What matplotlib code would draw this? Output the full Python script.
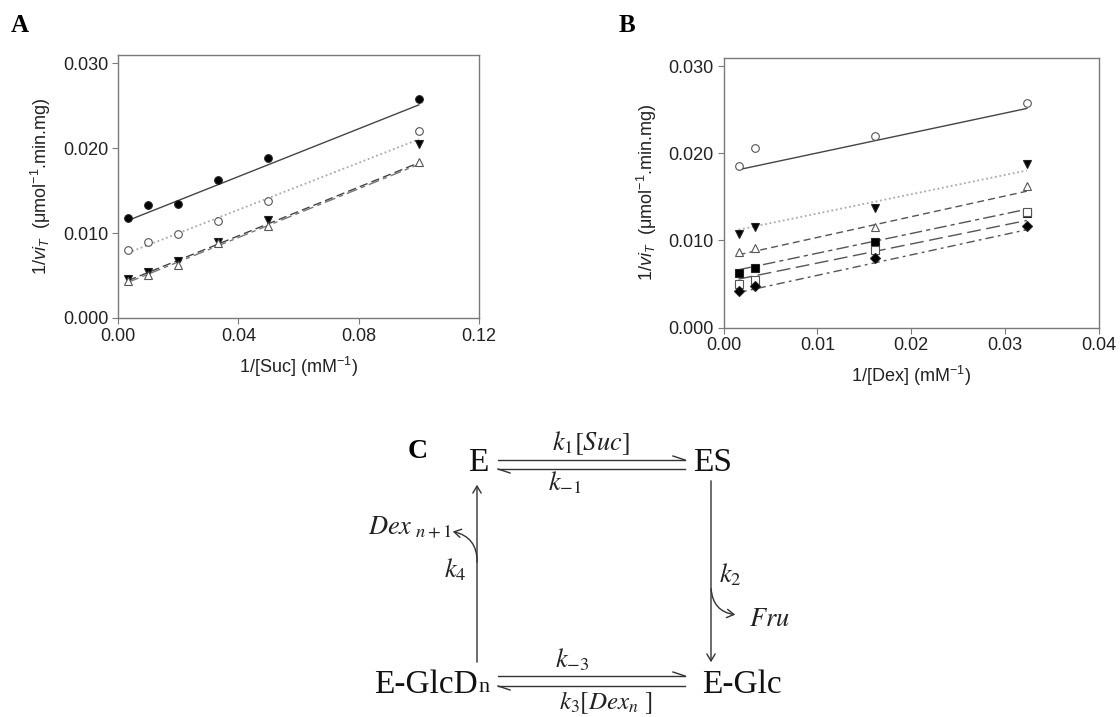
import numpy as np
import matplotlib
matplotlib.use("Agg")
import matplotlib.pyplot as plt
from matplotlib.patches import FancyArrowPatch

plt.rcParams["font.family"] = ["Liberation Sans", "DejaVu Sans"]
plt.rcParams["mathtext.fontset"] = "custom"
plt.rcParams["mathtext.rm"] = "Liberation Sans"
plt.rcParams["mathtext.it"] = "Liberation Sans:italic"

# panel A: 1/[Suc] series (points, then fitted line value at first / last x)
suc_x = [1/300, 1/100, 1/50, 1/30, 1/20, 1/10]
suc_fc = [0.01177, 0.01327, 0.01346, 0.01622, 0.01882, 0.02583]
suc_oc = [0.00799, 0.00894, 0.00992, 0.01142, 0.01382, 0.02201]
suc_ftd = [0.00461, 0.00539, 0.00677, 0.00894, 0.01154, 0.02055]
suc_otu = [0.00441, 0.00508, 0.00630, 0.00882, 0.01083, 0.01839]
suc_fit_fc = [0.01150, 0.02512]
suc_fit_oc = [0.00768, 0.02106]
suc_fit_ftd = [0.00441, 0.01830]
suc_fit_otu = [0.00421, 0.01811]

# panel B: 1/[Dex] series
dex_x = [0.0016, 0.0033, 0.0161, 0.0323]
dex_oc = [0.01851, 0.02057, 0.02203, 0.02580]
dex_ftd = [0.01069, 0.01153, 0.01368, 0.01875]
dex_otu = [0.00866, 0.00908, 0.01149, 0.01623]
dex_fsq = [0.00625, 0.00682, 0.00977, 0.01315]
dex_osq = [0.00502, 0.00548, 0.00885, 0.01325]
dex_fdi = [0.00421, 0.00471, 0.00793, 0.01170]
dex_fit_oc = [0.01812, 0.02515]
dex_fit_ftd = [0.01123, 0.01803]
dex_fit_otu = [0.00835, 0.01565]
dex_fit_fsq = [0.00663, 0.01358]
dex_fit_osq = [0.00556, 0.01229]
dex_fit_fdi = [0.00402, 0.01123]

GRID = "#7a7a7a"
TXT = "#222222"

def style_axes(ax, xlim, xticks, xlabel):
    ax.set_xlim(*xlim)
    ax.set_ylim(0, 0.031)
    ax.set_xticks(xticks)
    ax.set_xticklabels(["%.2f" % t for t in xticks])
    ax.set_yticks([0, 0.01, 0.02, 0.03])
    ax.set_yticklabels(["0.000", "0.010", "0.020", "0.030"])
    for s in ax.spines.values():
        s.set_color(GRID)
        s.set_linewidth(1.0)
    ax.tick_params(direction="out", length=4, color=GRID, labelsize=13,
                   labelcolor=TXT, top=False, right=False, pad=3)
    ax.set_xlabel(xlabel, fontsize=13, color=TXT, labelpad=7)
    ax.set_ylabel(r"$1/vi_T$  (μmol$^{-1}$.min.mg)", fontsize=13, color=TXT, labelpad=7)

def series(ax, x, y, fit, marker, mfc, ls, lc, lw=1.0):
    ax.plot([x[0], x[-1]], fit, linestyle=ls, color=lc, lw=lw, zorder=2)
    ax.plot(x, y, linestyle="none", marker=marker, ms=5.5, mfc=mfc,
            mec="#222222" if mfc != "white" else "#555555", mew=0.8, zorder=3)

fig = plt.figure(figsize=(11.2, 7.17), dpi=100)

axA = fig.add_axes([0.1054, 0.5565, 0.3223, 0.3668])
series(axA, suc_x, suc_fc, suc_fit_fc, "o", "black", "-", "#444444")
series(axA, suc_x, suc_oc, suc_fit_oc, "o", "white", (0, (1, 1.5)), "#aaaaaa", 1.3)
series(axA, suc_x, suc_ftd, suc_fit_ftd, "v", "black", (0, (6, 3)), "#444444")
series(axA, suc_x, suc_otu, suc_fit_otu, "^", "white", (0, (8, 3, 3, 3)), "#777777")
style_axes(axA, (0, 0.12), [0, 0.04, 0.08, 0.12], r"1/[Suc] (mM$^{-1}$)")

axB = fig.add_axes([0.646, 0.5432, 0.3353, 0.3766])
series(axB, dex_x, dex_oc, dex_fit_oc, "o", "white", "-", "#444444")
series(axB, dex_x, dex_ftd, dex_fit_ftd, "v", "black", (0, (1, 1.5)), "#aaaaaa", 1.3)
series(axB, dex_x, dex_otu, dex_fit_otu, "^", "white", (0, (5, 3)), "#555555")
series(axB, dex_x, dex_fsq, dex_fit_fsq, "s", "black", (0, (9, 3, 3, 3)), "#555555")
series(axB, dex_x, dex_osq, dex_fit_osq, "s", "white", (0, (10, 4)), "#555555")
series(axB, dex_x, dex_fdi, dex_fit_fdi, "D", "black", (0, (6, 3, 2, 3)), "#555555")
style_axes(axB, (0, 0.04), [0, 0.01, 0.02, 0.03, 0.04], r"1/[Dex] (mM$^{-1}$)")

# panel letters
serif = ["Liberation Serif", "DejaVu Serif"]
fig.text(20 / 1120, 1 - 25 / 717, "A", fontsize=18, fontweight="bold", family=serif, ha="center", va="center")
fig.text(627 / 1120, 1 - 25 / 717, "B", fontsize=18, fontweight="bold", family=serif, ha="center", va="center")

# scheme C, drawn in pixel coordinates
axC = fig.add_axes([0, 0, 1, 1])
axC.set_xlim(0, 1120)
axC.set_ylim(717, 0)
axC.axis("off")
axC.patch.set_visible(False)

lc = "#333333"
axC.text(418, 452, "C", fontsize=20, fontweight="bold", family=serif, ha="center", va="center")
big = dict(fontsize=24, family=serif, ha="center", va="center", color="#111111")
axC.text(478, 463, "E", **big)
axC.text(713, 463, "ES", **big)
axC.text(742, 685, "E-Glc", **big)
axC.text(478, 685, "E-GlcD", fontsize=24, family=serif, ha="right", va="center", color="#111111")
axC.text(478, 688, "n", fontsize=16, family=serif, ha="left", va="center", color="#111111")

lab = dict(fontsize=19, math_fontfamily="stix", ha="center", va="center", color="#222222")
axC.text(591, 443, r"$k_1[Suc]$", **lab)
axC.text(565, 483, r"$k_{-1}$", **lab)
axC.text(572, 660, r"$k_{-3}$", **lab)
axC.text(606, 703, r"$k_3[Dex_n\ ]$", fontsize=18, math_fontfamily="stix",
         ha="center", va="center", color="#222222")
axC.text(410, 528, r"$Dex_{\ n+1}$", **lab)
axC.text(455, 570, r"$k_4$", **lab)
axC.text(730, 575, r"$k_2$", **lab)
axC.text(769, 619, r"$Fru$", **lab)

def harpoons(y_top, y_bot):
    axC.plot([498, 685], [y_top, y_top], color=lc, lw=1)
    axC.plot([673, 685], [y_top - 4, y_top], color=lc, lw=1)
    axC.plot([498, 685], [y_bot, y_bot], color=lc, lw=1)
    axC.plot([498, 510], [y_bot, y_bot + 4], color=lc, lw=1)

harpoons(460, 469)
harpoons(676, 686)

arr = dict(arrowstyle="->,head_length=5,head_width=3", color=lc, lw=1)
axC.add_patch(FancyArrowPatch((477, 665), (477, 482), mutation_scale=1, **arr))
axC.add_patch(FancyArrowPatch((711, 478), (711, 665), mutation_scale=1, **arr))
axC.add_patch(FancyArrowPatch((477, 565), (450, 531), connectionstyle="arc3,rad=0.45",
                              mutation_scale=1, **arr))
axC.add_patch(FancyArrowPatch((711, 586), (738, 615), connectionstyle="arc3,rad=0.45",
                              mutation_scale=1, **arr))

fig.savefig("out.png", dpi=100)
